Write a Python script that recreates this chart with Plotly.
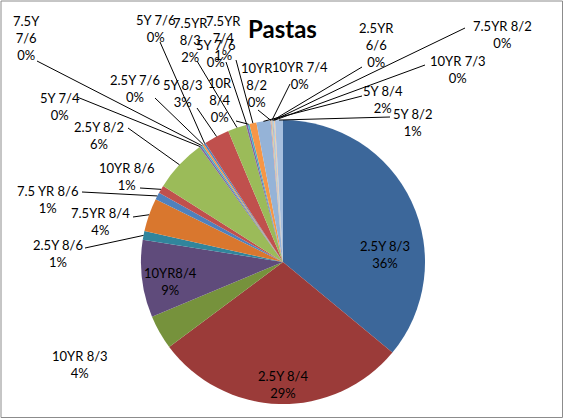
import math
import plotly.graph_objects as go

W, H = 568, 420

labels = ["2.5Y 8/3", "2.5Y 8/4", "10YR 8/3", "10YR8/4", "2.5Y 8/6", "7.5YR 8/4",
          "7.5 YR 8/6", "10YR 8/6", "2.5Y 8/2", "5Y 7/4", "7.5Y 7/6", "2.5Y 7/6",
          "5Y 7/6", "5Y 8/3", "7.5YR 8/3", "5Y 7/6", "10R 8/4", "7.5YR 7/4",
          "5Y 8/4", "10YR 8/2", "10YR 7/4", "2.5YR 6/6", "7.5YR 8/2", "10YR 7/3", "5Y 8/2"]
values = [36.0, 28.8, 3.9, 8.8, 1.0, 3.8,
          0.8, 0.9, 6.0, 0.2, 0.2, 0.2,
          0.2, 2.9, 2.1, 0.2, 0.2, 0.8,
          1.6, 0.1, 0.1, 0.1, 0.1, 0.1, 0.9]
colors = ["#3C679A", "#9B3B39", "#76923C", "#5F4B7B", "#31859C", "#D9772E",
          "#4F81BD", "#C0504D", "#9BBB59", "#8064A2", "#4BACC6", "#F79646",
          "#4F81BD", "#C0504D", "#9BBB59", "#8064A2", "#4BACC6", "#F79646",
          "#95B3D7", "#D99694", "#C3D69B", "#B3A2C7", "#93CDDD", "#FAC090", "#A7BFDE"]

# label layout: (text centre x, y in px), leader start (px) or None, wrap name
label_layout = [
    ((385, 255), None, False),
    ((283, 384), None, False),
    ((80, 364), None, False),
    ((170, 281), None, False),
    ((58, 254), (85, 248), False),
    ((100, 221), (133, 217), False),
    ((48, 199), (82, 192), False),
    ((127, 176), (140, 188), False),
    ((99, 136), (128, 128), False),
    ((60, 106), (77, 97), False),
    ((26, 38), (37, 61), True),
    ((135, 88), (155, 98), False),
    ((155, 29), (160, 42), False),
    ((182, 94), (197, 108), False),
    ((190, 40), (197, 61), True),
    ((215, 53), (226, 62), False),
    ((220, 100), (236, 121), True),
    ((223, 38), (236, 60), True),
    ((383, 99), (362, 96), False),
    ((257, 85), (258, 110), True),
    ((300, 75), (290, 84), False),
    ((377, 45), (362, 67), True),
    ((502, 34), (465, 28), False),
    ((458, 70), (425, 65), False),
    ((412, 122), (390, 117), False),
]

CX, CY, R = 283, 262, 142
FONT = "Lato, 'Open Sans', sans-serif"

fig = go.Figure(go.Pie(
    labels=[f"{l} #{i}" for i, l in enumerate(labels)],
    values=values,
    sort=False,
    direction="clockwise",
    rotation=0,
    marker=dict(colors=colors, line=dict(width=0)),
    textinfo="none",
    hoverinfo="skip",
    showlegend=False,
    domain=dict(x=[(CX - R) / W, (CX + R) / W], y=[1 - (CY + R) / H, 1 - (CY - R) / H]),
))

def px(x, y):
    return x / W, 1 - y / H

total = sum(values)
cum = 0.0
annotations = []
shapes = []
for i, (lab, v) in enumerate(zip(labels, values)):
    mid = (cum + v / 2) / total * 2 * math.pi
    cum += v
    (tx, ty), start, wrap = label_layout[i]
    name = lab.replace(" ", "<br>") if wrap else lab
    pct = round(v / total * 100)
    ax, ay = px(tx, ty)
    annotations.append(dict(x=ax, y=ay, xref="paper", yref="paper", text=f"{name}<br>{pct}%",
                            showarrow=False, xanchor="center", yanchor="middle",
                            font=dict(family=FONT, size=13, color="#000000")))
    if start is not None:
        ex = CX + R * math.sin(mid)
        ey = CY - R * math.cos(mid)
        x0, y0 = px(*start)
        x1, y1 = px(ex, ey)
        shapes.append(dict(type="line", xref="paper", yref="paper", x0=x0, y0=y0, x1=x1, y1=y1,
                           line=dict(color="#000000", width=1)))

tx, ty = px(282, 29)
annotations.append(dict(x=tx, y=ty, xref="paper", yref="paper", text="<b>Pastas</b>",
                        showarrow=False, xanchor="center", yanchor="middle",
                        font=dict(family=FONT, size=24, color="#000000")))

bx0, by0 = px(1, 1)
bx1, by1 = px(562.5, 417.5)
shapes.append(dict(type="rect", xref="paper", yref="paper", x0=bx0, y0=by0, x1=bx1, y1=by1,
                   line=dict(color="#8C8C8C", width=1)))

fig.update_layout(width=W, height=H, margin=dict(l=0, r=0, t=0, b=0),
                  paper_bgcolor="white", plot_bgcolor="white",
                  annotations=annotations, shapes=shapes)
fig.write_html("out.html")
